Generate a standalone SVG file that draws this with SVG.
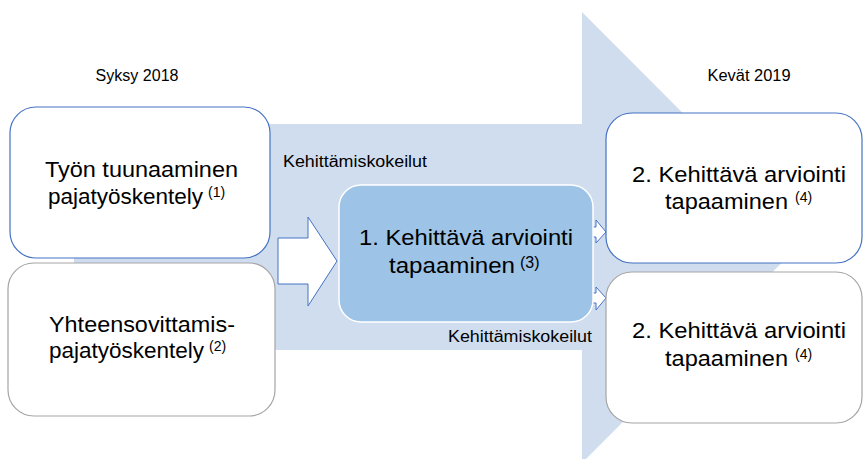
<svg xmlns="http://www.w3.org/2000/svg" width="864" height="459" viewBox="0 0 864 459">
<style>
.big{font-family:"Liberation Sans",Arial,sans-serif;font-size:22px;fill:#000;}
.sup{font-family:"Liberation Sans",Arial,sans-serif;font-size:14px;fill:#000;}
.sm{font-family:"Liberation Sans",Arial,sans-serif;font-size:16px;fill:#000;}
.boxb{fill:#fff;stroke:#4472C4;stroke-width:1.2;}
.boxg{fill:#fff;stroke:#A5A5A5;stroke-width:1.2;}
.arr{fill:#fff;stroke:#4472C4;stroke-width:1;}
</style>
<rect width="864" height="459" fill="#fff"/>
<g id="bigarrow">
<polygon points="74,124 582,124 582,12 807,237.5 582,463 582,350 74,350" fill="#D0DDEE"/>
</g>
<g id="labels">
<text class="sm" x="137" y="81" text-anchor="middle" textLength="83" lengthAdjust="spacingAndGlyphs">Syksy 2018</text>
<text class="sm" x="749" y="81" text-anchor="middle" textLength="83" lengthAdjust="spacingAndGlyphs">Kevät 2019</text>
<text class="sm" x="283" y="167" textLength="144" lengthAdjust="spacingAndGlyphs">Kehittämiskokeilut</text>
<text class="sm" x="448" y="342" textLength="144" lengthAdjust="spacingAndGlyphs">Kehittämiskokeilut</text>
</g>
<g id="connectors">
<polygon class="arr" points="278,238 308,238 308,217 337,261 308,306 308,284 278,284"/>
<polygon class="arr" points="587,227 596,227 596,220 606,232 596,243 596,237 587,237"/>
<polygon class="arr" points="587,293 596,293 596,287 606,298 596,310 596,303 587,303"/>
</g>
<g id="node-bl">
<rect class="boxg" x="8" y="263" width="267" height="153" rx="26"/>
<text class="big" x="49" y="332" textLength="186" lengthAdjust="spacingAndGlyphs">Yhteensovittamis-</text>
<text class="big" x="49" y="358" textLength="155" lengthAdjust="spacingAndGlyphs">pajatyöskentely</text>
<text class="sup" x="209" y="351">(2)</text>
</g>
<g id="node-tl">
<rect class="boxb" x="10" y="107" width="260" height="151" rx="26"/>
<text class="big" x="45" y="177" textLength="193" lengthAdjust="spacingAndGlyphs">Työn tuunaaminen</text>
<text class="big" x="48" y="204" textLength="155" lengthAdjust="spacingAndGlyphs">pajatyöskentely</text>
<text class="sup" x="208" y="197">(1)</text>
</g>
<g id="node-center">
<rect x="339" y="185" width="254" height="137" rx="22" fill="#9DC3E6" stroke="#fff" stroke-width="1.5"/>
<text class="big" x="359" y="245" textLength="214" lengthAdjust="spacingAndGlyphs">1. Kehittävä arviointi</text>
<text class="big" x="389" y="273" textLength="126" lengthAdjust="spacingAndGlyphs">tapaaminen</text>
<text class="sup" x="520" y="268" style="font-size:16px">(3)</text>
</g>
<g id="node-tr">
<rect class="boxb" x="606" y="113" width="256" height="150" rx="26"/>
<text class="big" x="632" y="182" textLength="214" lengthAdjust="spacingAndGlyphs">2. Kehittävä arviointi</text>
<text class="big" x="665" y="209" textLength="123" lengthAdjust="spacingAndGlyphs">tapaaminen</text>
<text class="sup" x="795" y="202">(4)</text>
</g>
<g id="node-br">
<rect class="boxg" x="606" y="272" width="256" height="151" rx="26"/>
<text class="big" x="632" y="338" textLength="214" lengthAdjust="spacingAndGlyphs">2. Kehittävä arviointi</text>
<text class="big" x="665" y="366" textLength="123" lengthAdjust="spacingAndGlyphs">tapaaminen</text>
<text class="sup" x="795" y="359">(4)</text>
</g>
</svg>
